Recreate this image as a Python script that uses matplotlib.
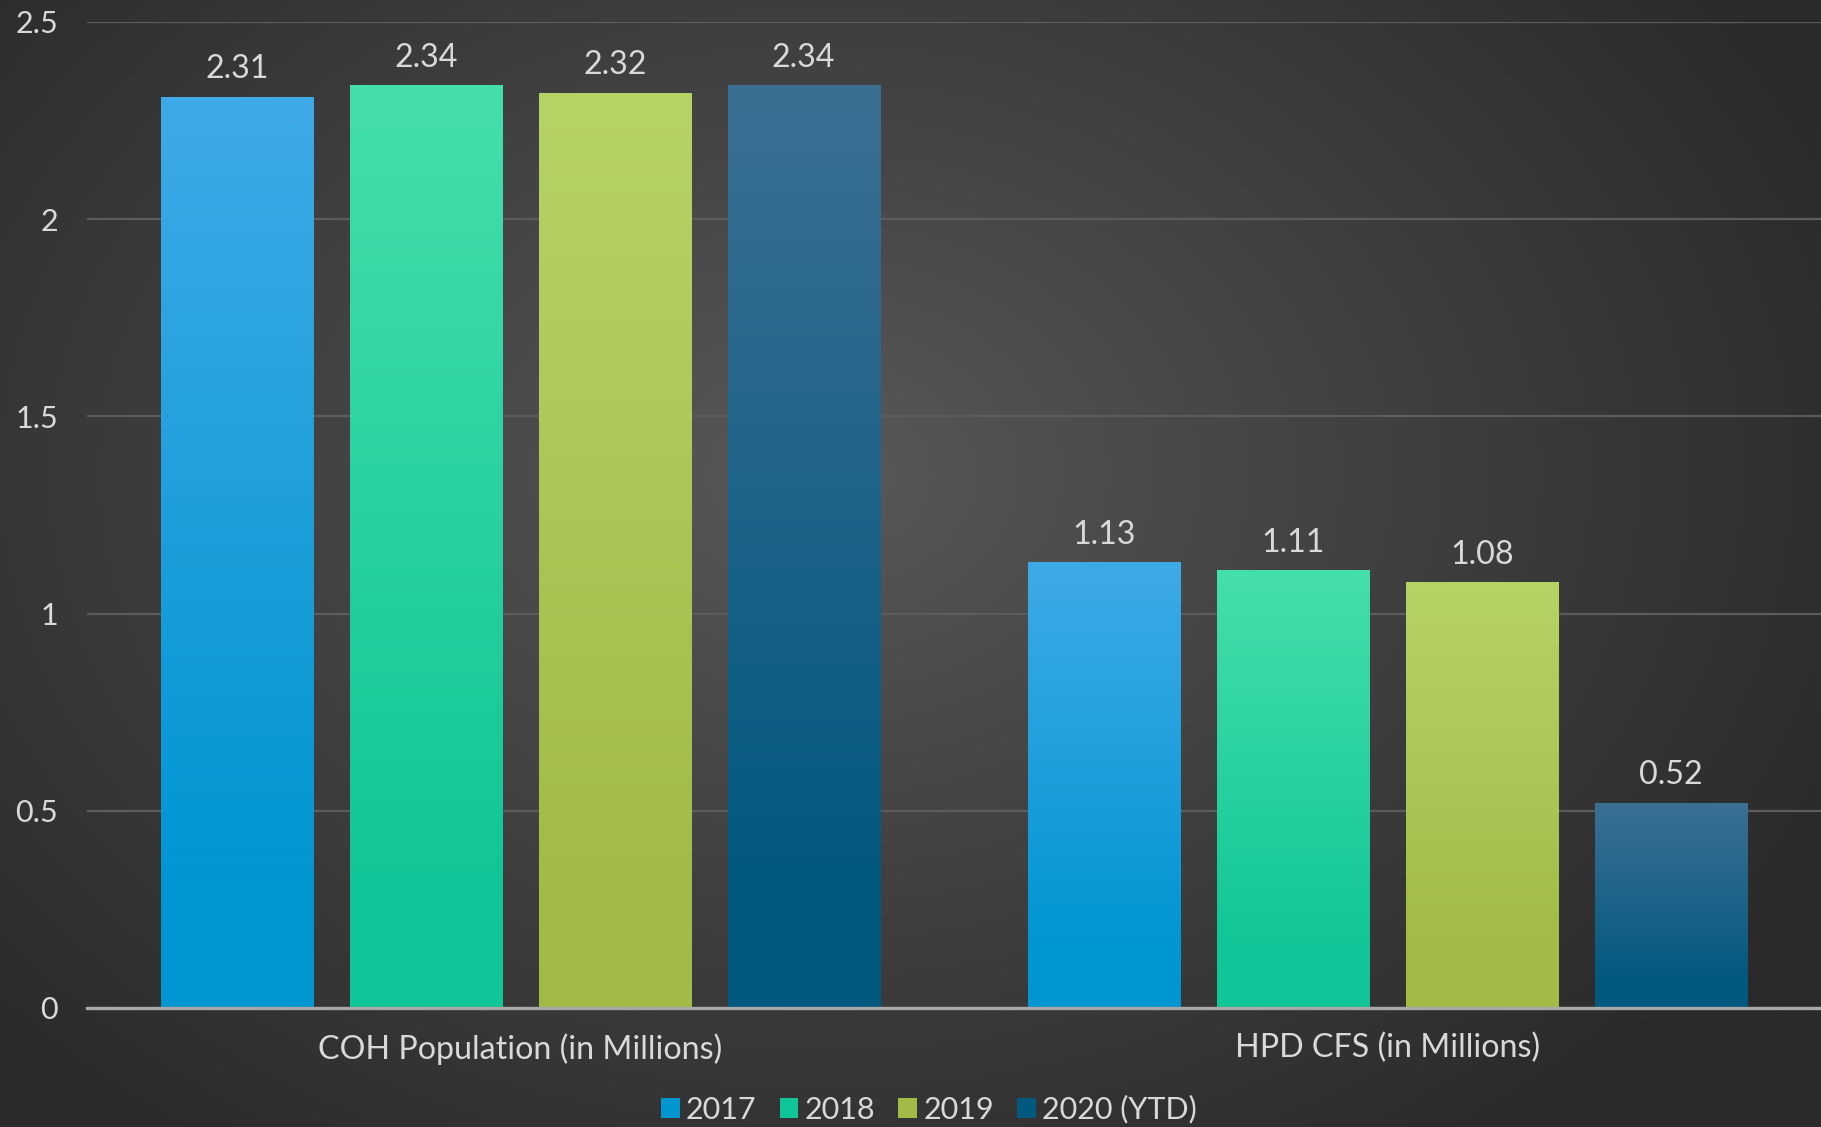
import numpy as np
import matplotlib
matplotlib.use("Agg")
import matplotlib.pyplot as plt
from matplotlib.colors import to_rgb
from matplotlib.patches import Patch

# chart data
categories = ['COH Population (in Millions)', 'HPD CFS (in Millions)']
series = ['2017', '2018', '2019', '2020 (YTD)']
vals_2017 = [2.31, 1.13]
vals_2018 = [2.34, 1.11]
vals_2019 = [2.32, 1.08]
vals_2020 = [2.34, 0.52]
yticks = [0, 0.5, 1, 1.5, 2, 2.5]
ytick_labels = ['0', '0.5', '1', '1.5', '2', '2.5']

# (top, bottom) colours of the bar gradients
grad_colors = [('#3eaae7', '#0096d2'),
               ('#45dfab', '#10c597'),
               ('#b6d366', '#a2bb46'),
               ('#3c7093', '#02587f')]
txt = '#d9d9d9'
fs = 22
fs_big = 23.2
plt.rcParams['font.family'] = ['Lato', 'DejaVu Sans']

fig = plt.figure(figsize=(18.21, 11.27), dpi=100)

# radial background
bg = fig.add_axes([0, 0, 1, 1], zorder=-5)
gx, gy = np.meshgrid(np.linspace(0, 1, 600), np.linspace(0, 1, 400))
d = np.sqrt(((gx - 0.45) / 0.62) ** 2 + ((gy - 0.42) / 0.75) ** 2)
d = np.clip(d, 0, 1)
c_in, c_out = np.array(to_rgb('#5a5a5a')), np.array(to_rgb('#2a2a2a'))
img = c_in + (c_out - c_in) * d[..., None] ** 0.9
bg.imshow(img, extent=(0, 1, 0, 1), aspect='auto', origin='upper')
bg.set_axis_off()

ax = fig.add_axes([0.0478, 0.1056, 0.9522, 0.8749])
ax.set_facecolor('none')

all_vals = [vals_2017, vals_2018, vals_2019, vals_2020]
x = np.arange(len(categories))
step = 0.2177
width = 0.1755
for i, (name, vals) in enumerate(zip(series, all_vals)):
    pos = x + (i - 1.5) * step
    bars = ax.bar(pos, vals, width, color='none', edgecolor='none', zorder=3)
    top, bot = grad_colors[i]
    grad = np.linspace(0, 1, 256)[:, None]
    cols = np.array(to_rgb(top)) + (np.array(to_rgb(bot)) - np.array(to_rgb(top))) * np.clip(grad * 1.15, 0, 1)[..., None]
    for b, v in zip(bars, vals):
        x0 = b.get_x()
        im = ax.imshow(cols, extent=(x0, x0 + b.get_width(), 0, v), aspect='auto',
                       origin='upper', zorder=3)
        im.set_clip_path(b)
        ax.annotate(f'{v:.2f}', (b.get_x() + b.get_width() / 2, v), xytext=(0, 9),
                    textcoords='offset points', ha='center', va='bottom',
                    color=txt, fontsize=fs_big)

ax.set_xlim(-0.5, 1.5)
ax.set_ylim(0, 2.5)
ax.set_yticks(yticks)
ax.set_yticklabels(ytick_labels)
ax.set_xticks(x)
ax.set_xticklabels(categories)
ax.tick_params(axis='y', length=0, pad=21, labelsize=fs, labelcolor=txt)
ax.tick_params(axis='x', length=0, pad=18, labelsize=fs_big, labelcolor=txt)
ax.grid(axis='y', color='#5c5c5c', linewidth=1.6, zorder=0)
ax.set_axisbelow(True)
for s in ['top', 'right', 'left']:
    ax.spines[s].set_visible(False)
ax.spines['bottom'].set_color('#a8a8a8')
ax.spines['bottom'].set_linewidth(2.4)
ax.spines['bottom'].set_zorder(4)

handles = [Patch(facecolor=c[1], edgecolor='none') for c in grad_colors]
fig.legend(handles, series, loc='center', bbox_to_anchor=(0.51, 0.0155), ncol=4,
           frameon=False, fontsize=fs, labelcolor=txt, handlelength=0.62,
           handleheight=0.62, handletextpad=0.2, columnspacing=0.75)

fig.savefig('out.png', dpi=100)
